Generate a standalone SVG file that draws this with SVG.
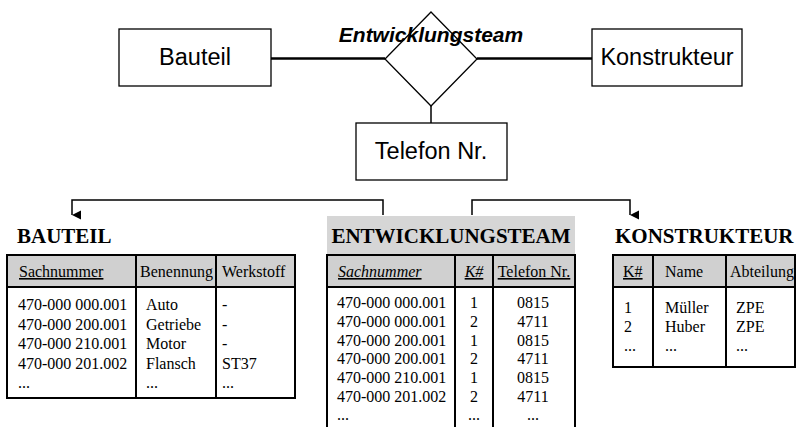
<svg xmlns="http://www.w3.org/2000/svg" width="796" height="427" viewBox="0 0 796 427">
  <defs>
    <marker id="arrow" viewBox="0 0 10 10" refX="5" refY="10" markerWidth="10" markerHeight="9" markerUnits="userSpaceOnUse" orient="auto-start-reverse">
      <path d="M0,0 L10,0 L5,10 Z" fill="#000"/>
    </marker>
    <style>
      .box { fill: #fff; stroke: #000; stroke-width: 1.3; }
      .er { font-family: "Liberation Sans", Arial, sans-serif; font-size: 23.5px; fill: #000; }
      .rel { font-family: "Liberation Sans", Arial, sans-serif; font-size: 21px; font-weight: bold; font-style: italic; fill: #000; }
      .thick { stroke: #000; stroke-width: 2.5; fill: none; }
      .thin { stroke: #000; stroke-width: 1.5; fill: none; }
      .title { font-family: "Liberation Serif", "Times New Roman", serif; font-size: 21px; font-weight: bold; fill: #000; }
      .cell { font-family: "Liberation Serif", "Times New Roman", serif; font-size: 16px; fill: #000; }
      .hdr { fill: #d0d0d0; }
      .grid { stroke: #000; stroke-width: 2; fill: none; }
      .u { text-decoration: underline; }
      .i { font-style: italic; }
    </style>
  </defs>

  <!-- ER model -->
  <g id="connectors-er">
    <line class="thick" x1="271" y1="58.5" x2="385" y2="58.5"/>
    <line class="thick" x1="477" y1="58.5" x2="592" y2="58.5"/>
    <line class="thin" x1="431" y1="106" x2="431" y2="123"/>
  </g>
  <g id="bauteil">
    <rect class="box" x="119" y="29" width="152" height="57"/>
    <text class="er" x="195" y="65" text-anchor="middle">Bauteil</text>
  </g>
  <g id="entwicklungsteam">
    <polygon points="431,12 477,59 431,106 385,59" fill="#fff" stroke="#000" stroke-width="1.3"/>
    <text class="rel" x="431" y="42" text-anchor="middle">Entwicklungsteam</text>
  </g>
  <g id="konstrukteur">
    <rect class="box" x="592" y="29" width="150" height="57"/>
    <text class="er" x="667" y="65" text-anchor="middle">Konstrukteur</text>
  </g>
  <g id="telefon">
    <rect class="box" x="356" y="123" width="151" height="57"/>
    <text class="er" x="431" y="159" text-anchor="middle">Telefon Nr.</text>
  </g>

  <!-- mapping arrows to relations -->
  <g id="connectors-tables">
    <polyline class="thin" points="383,215 383,200 72,200 72,215" marker-end="url(#arrow)"/>
    <polyline class="thin" points="472,215 472,200 630,200 630,215" marker-end="url(#arrow)"/>
  </g>

  <!-- relation BAUTEIL -->
  <g id="table-bauteil">
    <text class="title" x="17" y="243">BAUTEIL</text>
    <rect class="hdr" x="7" y="255" width="288" height="32"/>
    <rect class="grid" x="7" y="255" width="288" height="143"/>
    <line class="grid" x1="7" y1="287" x2="295" y2="287"/>
    <line class="grid" x1="136" y1="255" x2="136" y2="398"/>
    <line class="grid" x1="216" y1="255" x2="216" y2="398"/>
    <text class="cell u" x="19" y="277">Sachnummer</text>
    <text class="cell" x="140" y="277">Benennung</text>
    <text class="cell" x="222" y="277">Werkstoff</text>
    <g class="cell">
      <text x="18" y="310">470-000 000.001</text>
      <text x="18" y="329.5">470-000 200.001</text>
      <text x="18" y="349">470-000 210.001</text>
      <text x="18" y="368.5">470-000 201.002</text>
      <text x="18" y="388">...</text>
      <text x="146" y="310">Auto</text>
      <text x="146" y="329.5">Getriebe</text>
      <text x="146" y="349">Motor</text>
      <text x="146" y="368.5">Flansch</text>
      <text x="146" y="388">...</text>
      <text x="222" y="310">-</text>
      <text x="222" y="329.5">-</text>
      <text x="222" y="349">-</text>
      <text x="222" y="368.5">ST37</text>
      <text x="222" y="388">...</text>
    </g>
  </g>

  <!-- relation ENTWICKLUNGSTEAM -->
  <g id="table-entwicklungsteam">
    <rect x="327" y="216" width="248" height="39" fill="#d6d6d6"/>
    <text class="title" x="451" y="243" text-anchor="middle">ENTWICKLUNGSTEAM</text>
    <rect class="hdr" x="327" y="255" width="248" height="32"/>
    <polyline class="grid" points="327,428 327,255 575,255 575,428"/>
    <line class="grid" x1="327" y1="287" x2="575" y2="287"/>
    <line class="grid" x1="455" y1="255" x2="455" y2="428"/>
    <line class="grid" x1="493" y1="255" x2="493" y2="428"/>
    <text class="cell u i" x="338" y="277">Sachnummer</text>
    <text class="cell u i" x="474" y="277" text-anchor="middle">K#</text>
    <text class="cell u" x="534" y="277" text-anchor="middle">Telefon Nr.</text>
    <g class="cell">
      <text x="337" y="308">470-000 000.001</text>
      <text x="337" y="327">470-000 000.001</text>
      <text x="337" y="345.5">470-000 200.001</text>
      <text x="337" y="364">470-000 200.001</text>
      <text x="337" y="383">470-000 210.001</text>
      <text x="337" y="401.5">470-000 201.002</text>
      <text x="337" y="420">...</text>
    </g>
    <g class="cell" text-anchor="middle">
      <text x="474" y="308">1</text>
      <text x="474" y="327">2</text>
      <text x="474" y="345.5">1</text>
      <text x="474" y="364">2</text>
      <text x="474" y="383">1</text>
      <text x="474" y="401.5">2</text>
      <text x="474" y="420">...</text>
      <text x="533" y="308">0815</text>
      <text x="533" y="327">4711</text>
      <text x="533" y="345.5">0815</text>
      <text x="533" y="364">4711</text>
      <text x="533" y="383">0815</text>
      <text x="533" y="401.5">4711</text>
      <text x="533" y="420">...</text>
    </g>
  </g>

  <!-- relation KONSTRUKTEUR -->
  <g id="table-konstrukteur">
    <text class="title" x="615" y="243">KONSTRUKTEUR</text>
    <rect class="hdr" x="613" y="255" width="182" height="32"/>
    <rect class="grid" x="613" y="255" width="182" height="112"/>
    <line class="grid" x1="613" y1="287" x2="795" y2="287"/>
    <line class="grid" x1="653" y1="255" x2="653" y2="367"/>
    <line class="grid" x1="726" y1="255" x2="726" y2="367"/>
    <text class="cell u" x="623" y="277">K#</text>
    <text class="cell" x="665" y="277">Name</text>
    <text class="cell" x="730" y="277">Abteilung</text>
    <g class="cell">
      <text x="624" y="313">1</text>
      <text x="624" y="332">2</text>
      <text x="624" y="351">...</text>
      <text x="665" y="313">Müller</text>
      <text x="665" y="332">Huber</text>
      <text x="665" y="351">...</text>
      <text x="736" y="313">ZPE</text>
      <text x="736" y="332">ZPE</text>
      <text x="736" y="351">...</text>
    </g>
  </g>
</svg>
